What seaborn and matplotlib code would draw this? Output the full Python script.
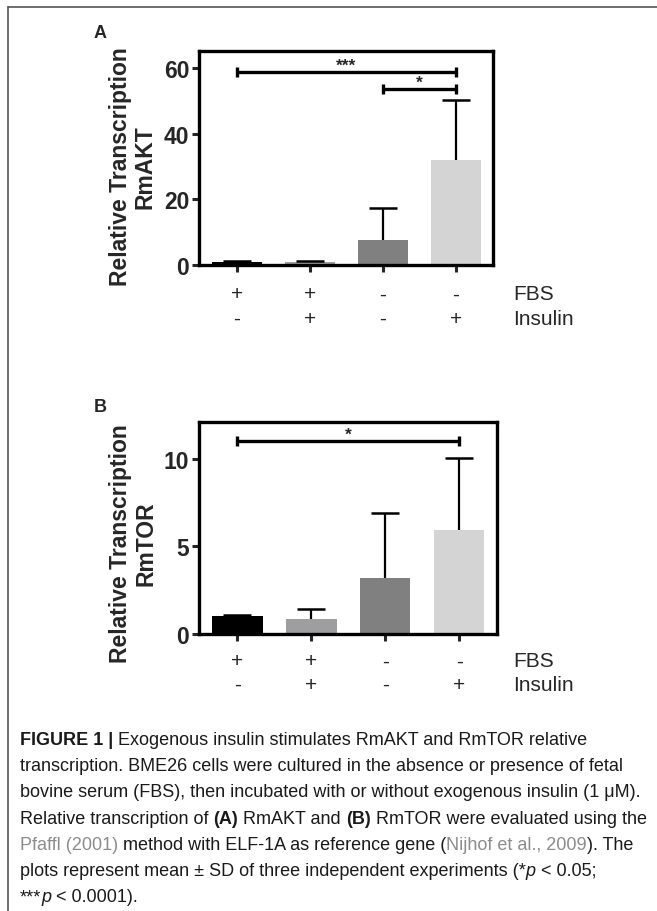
import matplotlib
matplotlib.use("Agg")
import matplotlib.pyplot as plt
import matplotlib.transforms as mtransforms
from matplotlib.lines import Line2D
from matplotlib.text import Annotation
import seaborn as sns
import pandas as pd

# data
conditions = ["FBS+ Ins-", "FBS+ Ins+", "FBS- Ins-", "FBS- Ins+"]
fbs_signs = ["+", "+", "-", "-"]
insulin_signs = ["-", "+", "-", "+"]
akt_mean = [1.0, 0.85, 7.6, 32.0]
akt_sd = [0.15, 0.35, 9.8, 18.2]
tor_mean = [1.0, 0.86, 3.18, 5.94]
tor_sd = [0.1, 0.57, 3.7, 4.1]
bar_colors = ["#000000", "#9e9ea1", "#808080", "#d4d4d4"]

# significance brackets: (start bar, end bar, height, label)
akt_sig = [(0, 3, 58.7, "***"), (2, 3, 53.5, "*")]
tor_sig = [(0, 3, 11.0, "*")]

sns.set_style("white")
plt.rcParams["font.family"] = ["Liberation Sans", "DejaVu Sans"]

W, H = 657, 912
fig = plt.figure(figsize=(W / 100, H / 100), dpi=100)


def px_axes(left, top, right, bottom):
    return fig.add_axes([left / W, 1 - bottom / H, (right - left) / W, (bottom - top) / H])


def draw_panel(ax, means, sds, sig, ylim, yticks, ylabel, label_pos, sign_rows):
    df = pd.DataFrame({"cond": conditions, "val": means})
    sns.barplot(data=df, x="cond", y="val", hue="cond", palette=bar_colors,
                width=0.68, legend=False, ax=ax, saturation=1, linewidth=0)
    # upper-only error bars with a cap at the top
    xs = list(range(len(means)))
    tops = [m + s for m, s in zip(means, sds)]
    ax.vlines(xs, means, tops, color="black", lw=1.6, zorder=3)
    ax.plot(xs, tops, ls="none", marker="_", markersize=20,
            markeredgewidth=1.8, color="black", zorder=3)
    for x1, x2, y, txt in sig:
        ax.plot([x1, x2], [y, y], color="black", lw=2.4, marker="|",
                markersize=7, markeredgewidth=2.4, solid_capstyle="butt")
        ax.text((x1 + x2) / 2, y, txt, ha="center", va="bottom",
                fontsize=12.5, fontweight="bold")
    ax.set_xlim(-0.52, 3.51)
    ax.set_ylim(*ylim)
    ax.set_yticks(yticks)
    ax.set_xticks(xs)
    ax.set_xticklabels([])
    ax.set_xlabel("")
    ax.set_ylabel(ylabel, fontsize=16.5, fontweight="bold", linespacing=1.1,
                  va="center")
    ax.yaxis.set_label_coords(*label_pos)
    for lbl in ax.get_yticklabels():
        lbl.set_fontweight("bold")
        lbl.set_fontsize(16.5)
    ax.tick_params(axis="both", direction="out", width=2.2, length=5, pad=2,
                   bottom=True, left=True)
    for sp in ax.spines.values():
        sp.set_visible(True)
        sp.set_linewidth(2.4)
        sp.set_color("black")
    trans = mtransforms.blended_transform_factory(ax.transData, ax.transAxes)
    for row_y, signs in zip(sign_rows, [fbs_signs, insulin_signs]):
        for i, s in enumerate(signs):
            ax.text(i, row_y, s, transform=trans, ha="center", va="center",
                    fontsize=15)
    ftrans = mtransforms.blended_transform_factory(fig.transFigure, ax.transAxes)
    ax.text(513 / W, sign_rows[0], "FBS", transform=ftrans, ha="left",
            va="center", fontsize=15)
    ax.text(513 / W, sign_rows[1], "Insulin", transform=ftrans, ha="left",
            va="center", fontsize=15)


ax_a = px_axes(199, 52, 493, 266)
draw_panel(ax_a, akt_mean, akt_sd, akt_sig, (0, 65.2), [0, 20, 40, 60],
           "Relative Transcription\nRmAKT", (-0.226, 0.463), (-0.135, -0.25))

ax_b = px_axes(199, 423, 497, 635)
draw_panel(ax_b, tor_mean, tor_sd, tor_sig, (0, 12.1), [0, 5, 10],
           "Relative Transcription\nRmTOR", (-0.221, 0.43), (-0.127, -0.236))

fig.text(100 / W, 1 - 34 / H, "A", fontsize=13, fontweight="bold", ha="center", va="center")
fig.text(100 / W, 1 - 407 / H, "B", fontsize=13, fontweight="bold", ha="center", va="center")

# frame lines top and left
fig.add_artist(Line2D([8 / W, 8 / W], [0, 1 - 8 / H], transform=fig.transFigure,
                      color="#555555", lw=1.2))
fig.add_artist(Line2D([8 / W, 1], [1 - 8 / H, 1 - 8 / H], transform=fig.transFigure,
                      color="#555555", lw=1.2))

# caption, each line built from styled pieces
link = "#8c8c8c"
txt = "#1a1a1a"
caption = [
    [("FIGURE 1 | ", "bold", "normal", txt),
     ("Exogenous insulin stimulates RmAKT and RmTOR relative", "normal", "normal", txt)],
    [("transcription. BME26 cells were cultured in the absence or presence of fetal", "normal", "normal", txt)],
    [("bovine serum (FBS), then incubated with or without exogenous insulin (1 \u03bcM).", "normal", "normal", txt)],
    [("Relative transcription of ", "normal", "normal", txt), ("(A)", "bold", "normal", txt),
     (" RmAKT and ", "normal", "normal", txt), ("(B)", "bold", "normal", txt),
     (" RmTOR were evaluated using the", "normal", "normal", txt)],
    [("Pfaffl (2001)", "normal", "normal", link),
     (" method with ELF-1A as reference gene (", "normal", "normal", txt),
     ("Nijhof et al., 2009", "normal", "normal", link), ("). The", "normal", "normal", txt)],
    [("plots represent mean \u00b1 SD of three independent experiments (*", "normal", "normal", txt),
     ("p", "normal", "italic", txt), (" < 0.05;", "normal", "normal", txt)],
    [("***", "normal", "normal", txt), ("p", "normal", "italic", txt),
     (" < 0.0001).", "normal", "normal", txt)],
]
cap_size = 13
line_y = [745, 771, 797, 824, 850, 876, 902]
for segs, y in zip(caption, line_y):
    s, wt, st, col = segs[0]
    prev = fig.text(20 / W, 1 - y / H, s, fontsize=cap_size, fontweight=wt,
                    fontstyle=st, color=col, ha="left", va="baseline")
    for s, wt, st, col in segs[1:]:
        prev = fig.add_artist(Annotation(
            s, xy=(1, 0), xycoords=prev, ha="left", va="bottom",
            fontsize=cap_size, fontweight=wt, fontstyle=st, color=col))

fig.savefig("out.png", dpi=100)
